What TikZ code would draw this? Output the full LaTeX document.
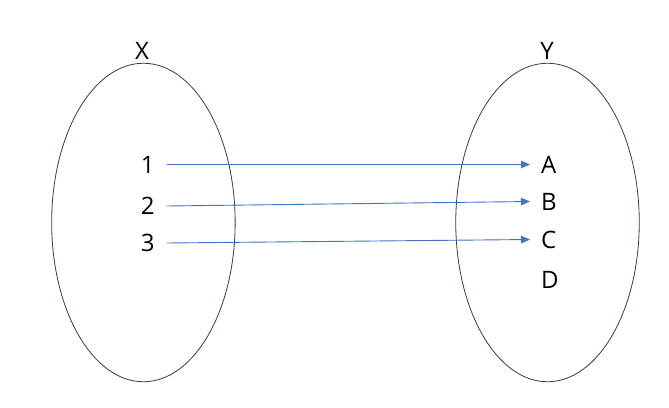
\documentclass[tikz,border=0pt]{standalone}
\usepackage{fontspec}
\setmainfont{Open Sans}
\usetikzlibrary{arrows.meta,shapes.geometric}
\definecolor{setline}{HTML}{2F3B5C}
\definecolor{arrowblue}{HTML}{4472C4}
\tikzset{
  setshape/.style={ellipse, draw=setline, line width=0.8pt, inner sep=0pt,
    minimum width=183.5pt, minimum height=318.5pt},
  lbl/.style={font=\fontsize{24}{28}\selectfont, inner ysep=0pt},
  src/.style={lbl, anchor=east, inner xsep=12pt},
  dst/.style={lbl, anchor=west, inner xsep=11pt},
  maparrow/.style={draw=arrowblue, line width=0.9pt,
    -{Triangle[length=9pt,width=7.5pt]}}
}
\begin{document}
\begin{tikzpicture}[x=1pt,y=-1pt]
\useasboundingbox (0,0) rectangle (669,407);
\node[setshape] (setX) at (143.4,222.5) {};
\node[setshape] (setY) at (547.5,222.5) {};
\node[lbl] (labX) at (142,51) {X};
\node[lbl] (labY) at (547,51) {Y};
\node[src] (n1) at (166.7,164.5) {1};
\node[src] (n2) at (166.7,206) {2};
\node[src] (n3) at (166.7,243) {3};
\node[dst] (nA) at (530,164.5) {A};
\node[dst] (nB) at (530,201.5) {B};
\node[dst] (nC) at (530,239.5) {C};
\node[dst] (nD) at (530,280) {D};
\draw[maparrow] (n1.east) -- (nA.west);
\draw[maparrow] (n2.east) -- (nB.west);
\draw[maparrow] (n3.east) -- (nC.west);
\end{tikzpicture}
\end{document}
